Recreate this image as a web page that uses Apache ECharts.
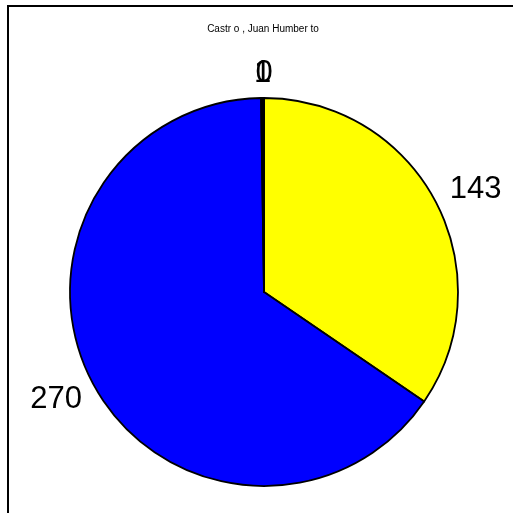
<!DOCTYPE html>
<html>
<head>
<meta charset="utf-8">
<script src="https://cdn.jsdelivr.net/npm/echarts@6/dist/echarts.min.js"></script>
<style>
  html, body { margin: 0; padding: 0; background: #fff; }
  #chart { width: 513px; height: 513px; }
</style>
</head>
<body>
<div id="chart"></div>
<script>
// Vote counts per category, in drawing order (clockwise from 12 o'clock)
const categories = ['A', 'B', 'C', 'D'];
const values = [143, 270, 1, 0];
const colors = ['#FFFF00', '#0000FF', '#000000', '#FFFFFF'];
const titleText = 'Castr o , Juan Humber to';

// label leader geometry per slice (leader lines hidden; only used to place text)
const leaderLen = [25, 32, 25, 25];
const leaderLen2 = [-13, -22, 0, 0];

const chart = echarts.init(document.getElementById('chart'), null, { renderer: 'canvas' });

const data = categories.map((name, i) => ({
  name: name,
  value: values[i],
  itemStyle: { color: colors[i] },
  labelLine: { show: false, length: leaderLen[i], length2: leaderLen2[i] }
}));

chart.setOption({
  animation: false,
  backgroundColor: '#ffffff',
  title: {
    text: titleText,
    left: 258,
    top: 19,
    textAlign: 'center',
    textStyle: { fontFamily: 'Liberation Sans', fontSize: 10, fontWeight: 'normal', color: '#000' }
  },
  graphic: [{
    type: 'rect',
    shape: { x: 8, y: 6, width: 520, height: 520 },
    style: { fill: 'none', stroke: '#000', lineWidth: 2 },
    silent: true
  }],
  series: [{
    type: 'pie',
    center: [264, 292],
    radius: [0, 194],
    startAngle: 90,
    clockwise: true,
    minAngle: 0,
    minShowLabelAngle: -1,
    avoidLabelOverlap: false,
    stillShowZeroSum: true,
    data: data,
    itemStyle: { borderColor: '#000', borderWidth: 1.8 },
    label: {
      show: true,
      position: 'outside',
      formatter: '{c}',
      fontFamily: 'Liberation Sans',
      fontSize: 31,
      color: '#000'
    },
    labelLine: { show: false },
    // labels of the hairline slices at 12 o'clock sit centred over their slice
    labelLayout: function (params) {
      if (values[params.dataIndex] < 5) {
        return { x: params.rect.x + params.rect.width / 2, align: 'center' };
      }
      return {};
    },
    emphasis: { disabled: true }
  }]
});
</script>
</body>
</html>
